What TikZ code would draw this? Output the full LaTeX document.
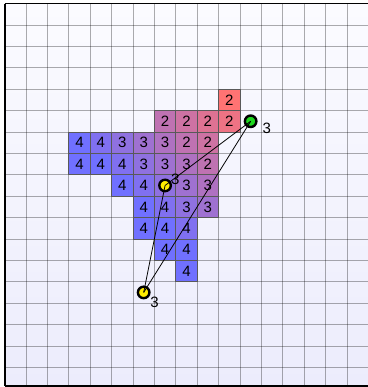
\documentclass[tikz,border=0pt]{standalone}
\usepackage{fontspec}
\setmainfont{Liberation Sans}
\usetikzlibrary{positioning}
\definecolor{cellred}{RGB}{255,115,115}
\definecolor{cellblue}{RGB}{112,112,255}
\definecolor{ptyellow}{RGB}{255,236,0}
\definecolor{ptgreen}{RGB}{30,215,30}
\definecolor{bgtop}{RGB}{251,251,255}
\definecolor{bgbot}{RGB}{236,236,252}

\begin{document}
\begin{tikzpicture}[
    x=21.4pt, y=-21.4pt,
    cell/.style={draw=black!65, line width=0.7pt, minimum size=21.4pt, inner sep=0pt, font=\fontsize{15}{17}\selectfont},
    pnt/.style={circle, draw=black, line width=2.4pt, minimum size=11.5pt, inner sep=0pt},
    lbl/.style={font=\fontsize{15}{17}\selectfont, inner sep=0pt},
    gridln/.style={black, opacity=0.32, line width=0.7pt},
    edge/.style={black, line width=0.8pt}
]
\useasboundingbox (-0.215,-0.168) rectangle (16.98,17.92);
\shade[top color=bgtop, bottom color=bgbot] (0,0) rectangle (16.98,17.87);
\foreach \k in {1,...,16} \draw[gridln] (\k,0) -- (\k,17.87);
\foreach \k in {1,...,17} \draw[gridln] (0,\k) -- (16.98,\k);

% cells: column / row / value
\foreach \c/\r/\v in {10/4/2,
    7/5/2, 8/5/2, 9/5/2, 10/5/2,
    3/6/4, 4/6/4, 5/6/3, 6/6/3, 7/6/3, 8/6/2, 9/6/2,
    3/7/4, 4/7/4, 5/7/4, 6/7/3, 7/7/3, 8/7/3, 9/7/2,
    5/8/4, 6/8/4, 7/8/{}, 8/8/3, 9/8/3,
    6/9/4, 7/9/4, 8/9/3, 9/9/3,
    6/10/4, 7/10/4, 8/10/4,
    7/11/4, 8/11/4,
    8/12/4}{
  \pgfmathtruncatemacro\t{max(0,min(100,(\c-\r+3)*100/9))}
  \node[cell, fill=cellred!\t!cellblue] (c\c-\r) at (\c+0.5,\r+0.5) {\v};
}

\node[pnt, fill=ptgreen] (g) at (11.5,5.5) {};
\node[pnt, fill=ptyellow] (ya) at (7.5,8.5) {};
\node[pnt, fill=ptyellow] (yb) at (6.5,13.5) {};
\node[lbl] (lg) at (12.25,5.83) {3};
\node[lbl] (lya) at (7.98,8.22) {3};
\node[lbl] (lyb) at (7.01,13.97) {3};

\draw[edge] (g.center) -- (ya.center);
\draw[edge] (g.center) -- (yb.center);
\draw[edge] (ya.center) -- (yb.center);

\draw[line width=2pt] (0,0) -- (0,17.87);
\draw[line width=1.4pt] (0,0) -- (16.98,0);
\draw[line width=2pt] (0,17.87) -- (16.98,17.87);
\end{tikzpicture}
\end{document}
